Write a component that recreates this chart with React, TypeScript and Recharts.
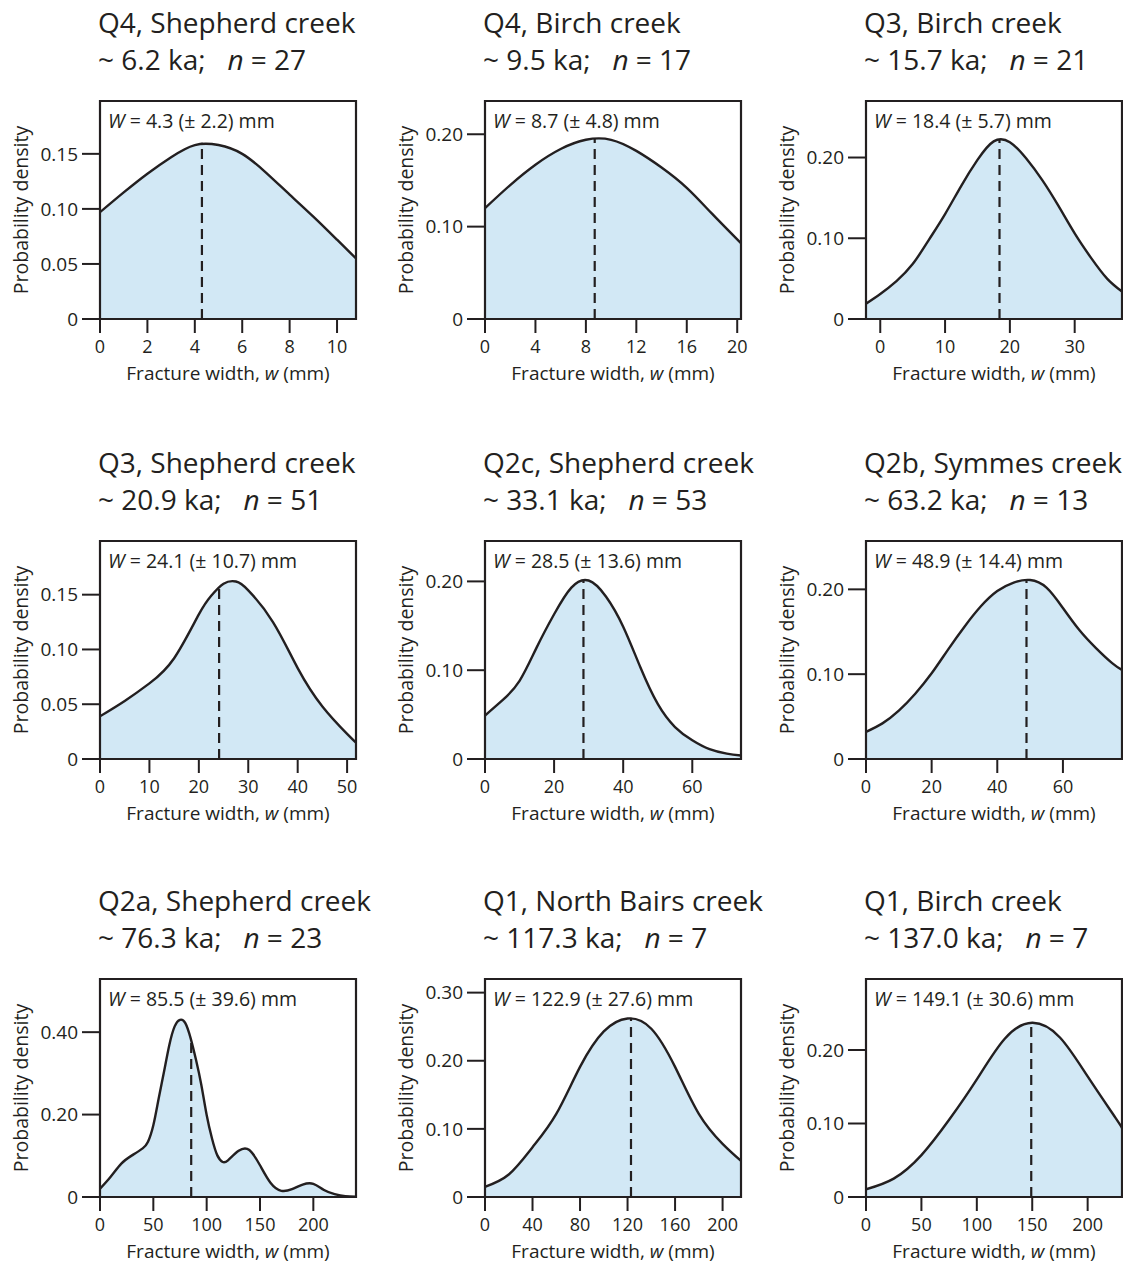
import React from "react";
import { ComposedChart, Area, XAxis, YAxis, ReferenceLine, ReferenceArea } from "recharts";

// fracture width (mm) and probability density, one pair of arrays per site
const q4ShepherdW = [0, 1, 2, 3, 4, 5, 6, 7, 8, 9, 10, 10.8];
const q4ShepherdP = [0.097, 0.115, 0.132, 0.147, 0.158, 0.158, 0.15, 0.133, 0.113, 0.093, 0.072, 0.055];

const q4BirchW = [0, 2, 4, 6, 8, 10, 12, 14, 16, 18, 20.3];
const q4BirchP = [0.12, 0.145, 0.167, 0.184, 0.194, 0.194, 0.182, 0.164, 0.142, 0.114, 0.082];

const q3BirchW = [-2.2, 0, 2.5, 5, 7.5, 10, 12.5, 15, 17.5, 20, 22.5, 25, 27.5, 30, 32.5, 35, 37.3];
const q3BirchP = [0.019, 0.031, 0.047, 0.068, 0.098, 0.13, 0.165, 0.197, 0.22, 0.219, 0.199, 0.172, 0.14, 0.106, 0.076, 0.05, 0.034];

const q3ShepherdW = [0, 5, 10, 15, 20, 22.5, 25, 27.5, 30, 35, 40, 45, 50, 51.8];
const q3ShepherdP = [0.039, 0.053, 0.069, 0.092, 0.132, 0.149, 0.16, 0.162, 0.154, 0.125, 0.083, 0.048, 0.023, 0.015];

const q2cShepherdW = [0, 5, 10, 15, 20, 25, 30, 35, 40, 45, 50, 55, 60, 65, 70, 74.1];
const q2cShepherdP = [0.049, 0.066, 0.088, 0.126, 0.163, 0.193, 0.201, 0.183, 0.149, 0.103, 0.062, 0.036, 0.021, 0.011, 0.006, 0.004];

const q2bSymmesW = [0, 5, 10, 15, 20, 25, 30, 35, 40, 45, 50, 55, 60, 65, 70, 75, 78];
const q2bSymmesP = [0.032, 0.042, 0.057, 0.077, 0.101, 0.129, 0.156, 0.18, 0.198, 0.208, 0.211, 0.202, 0.178, 0.152, 0.131, 0.113, 0.105];

const q2aShepherdW = [0, 10, 20, 30, 40, 45, 50, 55, 60, 65, 70, 75, 80, 85, 90, 95, 100, 105, 110, 115, 120, 130, 140, 150, 160, 170, 180, 190, 200, 210, 220, 230, 240];
const q2aShepherdP = [0.02, 0.049, 0.081, 0.101, 0.118, 0.134, 0.174, 0.239, 0.304, 0.369, 0.414, 0.43, 0.422, 0.385, 0.333, 0.272, 0.199, 0.142, 0.101, 0.085, 0.089, 0.112, 0.114, 0.077, 0.034, 0.015, 0.019, 0.03, 0.032, 0.017, 0.007, 0.002, 0.001];

const q1NorthBairsW = [0, 20, 40, 60, 80, 100, 120, 140, 160, 180, 200, 215.5];
const q1NorthBairsP = [0.015, 0.033, 0.073, 0.122, 0.191, 0.243, 0.262, 0.247, 0.191, 0.122, 0.078, 0.053];

const q1BirchW = [0, 25, 50, 75, 100, 125, 150, 175, 200, 225, 231];
const q1BirchP = [0.0105, 0.025, 0.057, 0.105, 0.16, 0.215, 0.237, 0.217, 0.164, 0.108, 0.094];

const widths = [q4ShepherdW, q4BirchW, q3BirchW, q3ShepherdW, q2cShepherdW, q2bSymmesW, q2aShepherdW, q1NorthBairsW, q1BirchW];
const densities = [q4ShepherdP, q4BirchP, q3BirchP, q3ShepherdP, q2cShepherdP, q2bSymmesP, q2aShepherdP, q1NorthBairsP, q1BirchP];

const sites = ["Q4, Shepherd creek", "Q4, Birch creek", "Q3, Birch creek", "Q3, Shepherd creek", "Q2c, Shepherd creek", "Q2b, Symmes creek", "Q2a, Shepherd creek", "Q1, North Bairs creek", "Q1, Birch creek"];
const ages = ["6.2", "9.5", "15.7", "20.9", "33.1", "63.2", "76.3", "117.3", "137.0"];
const sampleSizes = [27, 17, 21, 51, 53, 13, 23, 7, 7];
const meanWidths = [4.3, 8.7, 18.4, 24.1, 28.5, 48.9, 85.5, 122.9, 149.1];
const sdWidths = [2.2, 4.8, 5.7, 10.7, 13.6, 14.4, 39.6, 27.6, 30.6];
const densityAtMean = [0.16, 0.195, 0.222, 0.159, 0.202, 0.211, 0.381, 0.263, 0.237];

const xDomains = [[0, 10.8], [0, 20.3], [-2.2, 37.3], [0, 51.8], [0, 74.1], [0, 78], [0, 240], [0, 215.5], [0, 231]];
const xTicks = [
  [0, 2, 4, 6, 8, 10],
  [0, 4, 8, 12, 16, 20],
  [0, 10, 20, 30],
  [0, 10, 20, 30, 40, 50],
  [0, 20, 40, 60],
  [0, 20, 40, 60],
  [0, 50, 100, 150, 200],
  [0, 40, 80, 120, 160, 200],
  [0, 50, 100, 150, 200],
];
const yMax = [0.198, 0.236, 0.27, 0.199, 0.2455, 0.257, 0.529, 0.32, 0.2966];
const yTicks = [
  [0, 0.05, 0.1, 0.15],
  [0, 0.1, 0.2],
  [0, 0.1, 0.2],
  [0, 0.05, 0.1, 0.15],
  [0, 0.1, 0.2],
  [0, 0.1, 0.2],
  [0, 0.2, 0.4],
  [0, 0.1, 0.2, 0.3],
  [0, 0.1, 0.2],
];

const colLeft = [100, 485, 866];
const rowTop = [101, 541, 979];
const BOX_W = 256;
const BOX_H = 218;
const INK = "#231f20";
const FILL = "#d2e8f5";

const XLabel = (props: any) => {
  const { x, y, width } = props.viewBox;
  return (
    <text x={x + width / 2} y={y + 61} textAnchor="middle" fontSize={19} fill={INK}>
      Fracture width, <tspan fontStyle="italic">w</tspan> (mm)
    </text>
  );
};

const YLabel = (props: any) => {
  const { x, y, height } = props.viewBox;
  const cx = x + 20;
  const cy = y + height / 2;
  return (
    <text x={cx} y={cy} transform={`rotate(-90 ${cx} ${cy})`} textAnchor="middle" dominantBaseline="central" fontSize={19.5} fill={INK}>
      Probability density
    </text>
  );
};

const Panel = ({ i }: { i: number }) => {
  const left = colLeft[i % 3];
  const top = rowTop[Math.floor(i / 3)];
  const data = widths[i].map((w, k) => ({ w, p: densities[i][k] }));
  const [x0, x1] = xDomains[i];
  return (
    <>
      <div style={{ position: "absolute", left: left - 2, top: top - 97, fontSize: 28, lineHeight: "37px", color: INK, whiteSpace: "pre" }}>
        <div>{sites[i]}</div>
        <div>
          ~ {ages[i]} ka;{"   "}<i>n</i> = {sampleSizes[i]}
        </div>
      </div>
      <div style={{ position: "absolute", left: left - 100, top: top - 2 }}>
        <ComposedChart width={100 + BOX_W + 20} height={BOX_H + 70} data={data} margin={{ top: 2, right: 20, bottom: 0, left: 0 }}>
          <XAxis
            dataKey="w"
            type="number"
            domain={[x0, x1]}
            ticks={xTicks[i]}
            interval={0}
            allowDataOverflow
            height={68}
            tickSize={14}
            tickMargin={7}
            axisLine={{ stroke: INK, strokeWidth: 2 }}
            tickLine={{ stroke: INK, strokeWidth: 2 }}
            tick={{ fontSize: 18, fill: INK }}
            label={<XLabel />}
          />
          <YAxis
            type="number"
            domain={[0, yMax[i]]}
            ticks={yTicks[i]}
            interval={0}
            allowDataOverflow
            width={100}
            tickSize={18}
            tickMargin={4}
            tickFormatter={(v: number) => (v === 0 ? "0" : v.toFixed(2))}
            axisLine={{ stroke: INK, strokeWidth: 2 }}
            tickLine={{ stroke: INK, strokeWidth: 2 }}
            tick={{ fontSize: 19, fill: INK }}
            label={<YLabel />}
          />
          <Area type="natural" dataKey="p" stroke={INK} strokeWidth={2.4} fill={FILL} fillOpacity={1} isAnimationActive={false} dot={false} activeDot={false} />
          <ReferenceLine
            segment={[{ x: meanWidths[i], y: 0 }, { x: meanWidths[i], y: densityAtMean[i] }]}
            stroke={INK}
            strokeWidth={2.2}
            strokeDasharray="10 6"
          />
          <ReferenceArea x1={x0} x2={x1} y1={0} y2={yMax[i]} fill="none" stroke={INK} strokeWidth={2.2} />
        </ComposedChart>
      </div>
      <div style={{ position: "absolute", left: left + 8, top: top + 6, fontSize: 19.5, color: INK, whiteSpace: "pre" }}>
        <i>W</i> = {meanWidths[i].toFixed(1)} (± {sdWidths[i].toFixed(1)}) mm
      </div>
    </>
  );
};

export default function App() {
  return (
    <div style={{ position: "absolute", left: 0, top: 0, width: 1123, height: 1263, overflow: "hidden", background: "#fff", fontFamily: "'Open Sans', sans-serif" }}>
      {sites.map((_, i) => (
        <Panel key={i} i={i} />
      ))}
    </div>
  );
}
